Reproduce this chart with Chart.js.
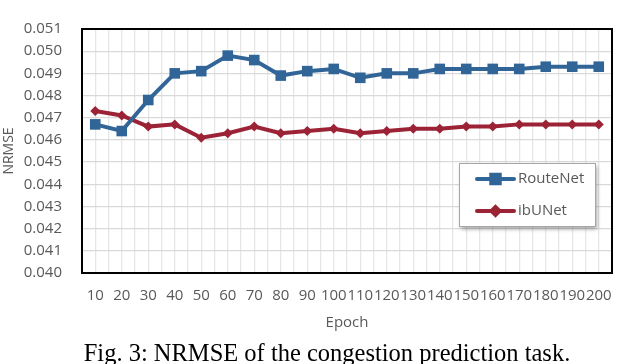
<!DOCTYPE html>
<html>
<head>
<meta charset="utf-8">
<script src="https://cdn.jsdelivr.net/npm/chart.js@4"></script>
<style>
  body { margin: 0; background: #fff; }
  #wrap { position: relative; width: 626px; height: 364px; overflow: hidden; }
  #box { position: absolute; left: 0; top: 0; width: 626px; height: 340px; }
  #caption {
    position: absolute; left: 14px; top: 339px; width: 626px; text-align: center;
    font-family: "Liberation Serif", "Times New Roman", serif; font-size: 24.5px; color: #000;
    white-space: nowrap; line-height: 28px;
  }
</style>
</head>
<body>
<div id="wrap">
  <div id="box"><canvas id="myChart" width="626" height="340"></canvas></div>
  <div id="caption">Fig. 3: NRMSE of the congestion prediction task.</div>
</div>
<script>
var epochs = [10, 20, 30, 40, 50, 60, 70, 80, 90, 100, 110, 120, 130, 140, 150, 160, 170, 180, 190, 200];
var routeNet = [0.0467, 0.0464, 0.0478, 0.0490, 0.0491, 0.0498, 0.0496, 0.0489, 0.0491, 0.0492,
                0.0488, 0.0490, 0.0490, 0.0492, 0.0492, 0.0492, 0.0492, 0.0493, 0.0493, 0.0493];
var ibUNet = [0.0473, 0.0471, 0.0466, 0.0467, 0.0461, 0.0463, 0.0466, 0.0463, 0.0464, 0.0465,
              0.0463, 0.0464, 0.0465, 0.0465, 0.0466, 0.0466, 0.0467, 0.0467, 0.0467, 0.0467];
var yTicks = [0.040, 0.041, 0.042, 0.043, 0.044, 0.045, 0.046, 0.047, 0.048, 0.049, 0.050, 0.051];

var blue = '#316598';
var red = '#9c2336';
var textGray = '#595959';
var font = '"Open Sans", "Noto Sans", sans-serif';

function pts(vals) {
    return epochs.map(function (e, i) { return { x: e, y: vals[i] }; });
}

// black frame round the plot area
var framePlugin = {
    id: 'frame',
    afterDatasetsDraw: function (chart) {
        var a = chart.chartArea, ctx = chart.ctx;
        ctx.save();
        ctx.strokeStyle = '#000';
        ctx.lineWidth = 2;
        ctx.strokeRect(a.left, a.top, a.right - a.left, a.bottom - a.top);
        ctx.restore();
    }
};

// legend box inside the plot, like the original
var legendPlugin = {
    id: 'boxLegend',
    afterDraw: function (chart) {
        var ctx = chart.ctx;
        var bx = 459, by = 163, bw = 136, bh = 63;
        ctx.save();
        ctx.shadowColor = 'rgba(0,0,0,0.35)';
        ctx.shadowBlur = 4;
        ctx.shadowOffsetX = 2;
        ctx.shadowOffsetY = 3;
        ctx.fillStyle = '#fff';
        ctx.fillRect(bx, by, bw, bh);
        ctx.restore();
        ctx.save();
        ctx.strokeStyle = '#a6a6a6';
        ctx.lineWidth = 1;
        ctx.strokeRect(bx + 0.5, by + 0.5, bw, bh);
        chart.data.datasets.forEach(function (ds, i) {
            var y = by + 16 + i * 32;
            ctx.strokeStyle = ds.borderColor;
            ctx.lineWidth = 4;
            ctx.lineCap = 'round';
            ctx.beginPath();
            ctx.moveTo(477, y);
            ctx.lineTo(514, y);
            ctx.stroke();
            Chart.helpers.drawPoint(ctx, {
                pointStyle: ds.pointStyle,
                radius: ds.pointStyle === 'rect' ? 6 : 4,
                borderWidth: 1,
                rotation: 0
            }, 495.5, y);
            ctx.fillStyle = ds.borderColor;
            ctx.fill();
            ctx.fillStyle = textGray;
            ctx.font = '15px ' + font;
            ctx.textBaseline = 'middle';
            ctx.fillText(ds.label, 518, y);
        });
        ctx.restore();
    }
};

var ctx = document.getElementById('myChart').getContext('2d');

var data = {
    datasets: [
        {
            label: 'RouteNet',
            data: pts(routeNet),
            borderColor: blue,
            backgroundColor: blue,
            borderWidth: 4,
            pointStyle: 'rect',
            pointRadius: 7.5,
            pointBorderWidth: 0
        },
        {
            label: 'ibUNet',
            data: pts(ibUNet),
            borderColor: red,
            backgroundColor: red,
            borderWidth: 4,
            pointStyle: 'rectRot',
            pointRadius: 5,
            pointBorderWidth: 0
        }
    ]
};

var options = {
    responsive: false,
    animation: false,
    layout: { padding: { top: 7, right: 1, left: 0, bottom: 0 } },
    plugins: { legend: { display: false }, tooltip: { enabled: false } },
    scales: {
        x: {
            type: 'linear',
            min: 5,
            max: 205,
            afterBuildTicks: function (scale) {
                var t = [];
                for (var v = 5; v <= 205; v += 5) t.push({ value: v });
                scale.ticks = t;
            },
            afterFit: function (scale) { scale.height = 67; },
            ticks: {
                autoSkip: false,
                maxRotation: 0,
                padding: 14,
                color: textGray,
                font: { family: font, size: 15 },
                callback: function (v) { return epochs.indexOf(v) >= 0 ? String(v) : ''; }
            },
            grid: { color: '#e6e6e6', lineWidth: 1.3, drawTicks: false },
            border: { display: false },
            title: {
                display: true,
                text: 'Epoch',
                color: textGray,
                font: { family: font, size: 15 },
                padding: { top: 0, bottom: 8 }
            }
        },
        y: {
            min: yTicks[0],
            max: yTicks[yTicks.length - 1],
            afterBuildTicks: function (scale) {
                scale.ticks = yTicks.map(function (v) { return { value: v }; });
            },
            afterFit: function (scale) { scale.width = 82; },
            ticks: {
                padding: 20,
                color: textGray,
                font: { family: font, size: 15 },
                callback: function (v) { return Number(v).toFixed(3); }
            },
            grid: { color: '#d9d9d9', lineWidth: 1.3, drawTicks: false },
            border: { display: false },
            title: {
                display: true,
                text: 'NRMSE',
                color: textGray,
                font: { family: font, size: 14 },
                padding: { top: 1, bottom: 0 }
            }
        }
    }
};

var myLineChart = new Chart(ctx, {
    type: 'line',
    data: data,
    options: options,
    plugins: [framePlugin, legendPlugin]
});
</script>
</body>
</html>
